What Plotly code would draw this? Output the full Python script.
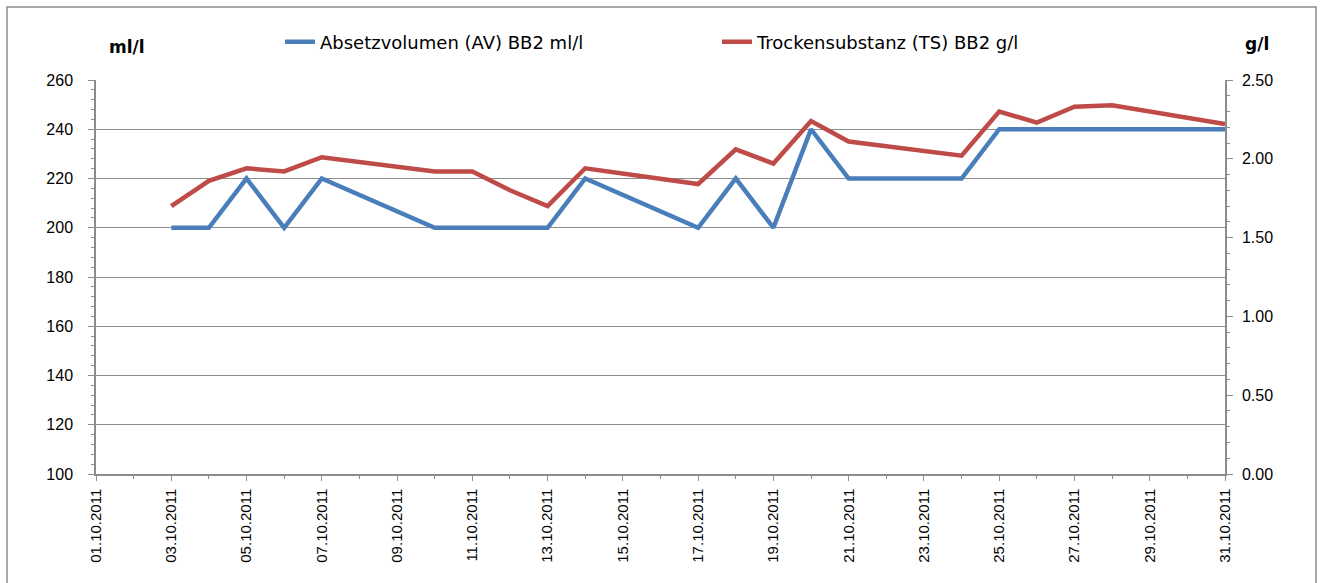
import plotly.graph_objects as go

dates = ["2011-10-03", "2011-10-04", "2011-10-05", "2011-10-06", "2011-10-07",
         "2011-10-10", "2011-10-11", "2011-10-12", "2011-10-13", "2011-10-14",
         "2011-10-17", "2011-10-18", "2011-10-19", "2011-10-20", "2011-10-21",
         "2011-10-24", "2011-10-25", "2011-10-26", "2011-10-27", "2011-10-28",
         "2011-10-31"]
av_ml_l = [200, 200, 220, 200, 220,
           200, 200, 200, 200, 220,
           200, 220, 200, 240, 220,
           220, 240, 240, 240, 240,
           240]
ts_g_l = [1.70, 1.86, 1.94, 1.92, 2.01,
          1.92, 1.92, 1.80, 1.70, 1.94,
          1.84, 2.06, 1.97, 2.24, 2.11,
          2.02, 2.30, 2.23, 2.33, 2.34,
          2.22]
name_av = "Absetzvolumen (AV) BB2 ml/l"
name_ts = "Trockensubstanz (TS) BB2 g/l"

BLUE = "#4A7EBB"
RED = "#BE4B48"
GRID = "#8C8C8C"
TICKFONT = dict(family="Liberation Sans, Arial, sans-serif", size=16, color="#000")
XTICKFONT = dict(family="Liberation Sans, Arial, sans-serif", size=15, color="#000")

# plot area in page px: x 96..1225, y 80..474 (body margin removed below)
PL, PR, PT, PB = 96, 1225, 80, 474
W, H = 1323, 583


def px(x):
    return (x - PL) / (PR - PL)


def py(y):
    return (PB - y) / (PB - PT)


fig = go.Figure()
fig.add_trace(go.Scatter(x=dates, y=av_ml_l, name=name_av, mode="lines",
                         line=dict(color=BLUE, width=4.5), yaxis="y"))
fig.add_trace(go.Scatter(x=dates, y=ts_g_l, name=name_ts, mode="lines",
                         line=dict(color=RED, width=4.5), yaxis="y2"))

fig.update_layout(
    width=W, height=H,
    margin=dict(l=PL, r=W - PR, t=PT, b=H - PB),
    paper_bgcolor="white", plot_bgcolor="white",
    showlegend=True,
    legend=dict(orientation="h", x=px(280), xanchor="left",
                y=py(42), yanchor="middle",
                font=dict(family="DejaVu Sans, sans-serif", size=18, color="#000"),
                entrywidth=392, entrywidthmode="pixels",
                bgcolor="rgba(0,0,0,0)", traceorder="normal"),
    xaxis=dict(
        type="date", range=["2011-10-01", "2011-10-31"],
        tick0="2011-10-01", dtick=2 * 86400000, tickformat="%d.%m.%Y",
        tickangle=-90, tickfont=XTICKFONT,
        ticks="outside", ticklen=5, tickcolor=GRID, tickwidth=1,
        minor=dict(dtick=86400000, ticks="outside", ticklen=3, tickcolor=GRID, showgrid=False),
        showline=True, linecolor=GRID, linewidth=1.5,
        showgrid=False, zeroline=False, ticklabelstandoff=2,
    ),
    yaxis=dict(
        range=[100, 260], dtick=20, tick0=100,
        tickfont=TICKFONT,
        ticks="outside", ticklen=6, tickcolor=GRID, tickwidth=1,
        minor=dict(dtick=4, ticks="outside", ticklen=3, tickcolor=GRID, showgrid=False),
        showline=True, linecolor=GRID, linewidth=1.5,
        showgrid=True, gridcolor=GRID, gridwidth=1.2, zeroline=False,
        ticklabelstandoff=12,
    ),
    yaxis2=dict(
        range=[0, 2.5], dtick=0.5, tick0=0, tickformat=".2f",
        overlaying="y", side="right",
        tickfont=TICKFONT,
        ticks="outside", ticklen=6, tickcolor=GRID, tickwidth=1,
        minor=dict(dtick=0.1, ticks="outside", ticklen=3, tickcolor=GRID, showgrid=False),
        showline=True, linecolor=GRID, linewidth=1.5,
        showgrid=False, zeroline=False, ticklabelstandoff=6,
    ),
    annotations=[
        dict(text="<b>ml/l</b>", xref="paper", yref="paper",
             x=px(127), y=py(47), showarrow=False,
             xanchor="center", yanchor="middle",
             font=dict(family="DejaVu Sans, sans-serif", size=17, color="#000")),
        dict(text="<b>g/l</b>", xref="paper", yref="paper",
             x=px(1257), y=py(44), showarrow=False,
             xanchor="center", yanchor="middle",
             font=dict(family="DejaVu Sans, sans-serif", size=17, color="#000")),
    ],
    shapes=[
        dict(type="rect", xref="paper", yref="paper",
             x0=px(7), x1=px(1316),
             y0=py(600), y1=py(7),
             line=dict(color=GRID, width=1.5), fillcolor="rgba(0,0,0,0)", layer="above"),
    ],
)

fig.write_html("out.html", config={"displayModeBar": False},
               post_script="document.body.style.margin='0px';document.body.style.padding='0px';")
